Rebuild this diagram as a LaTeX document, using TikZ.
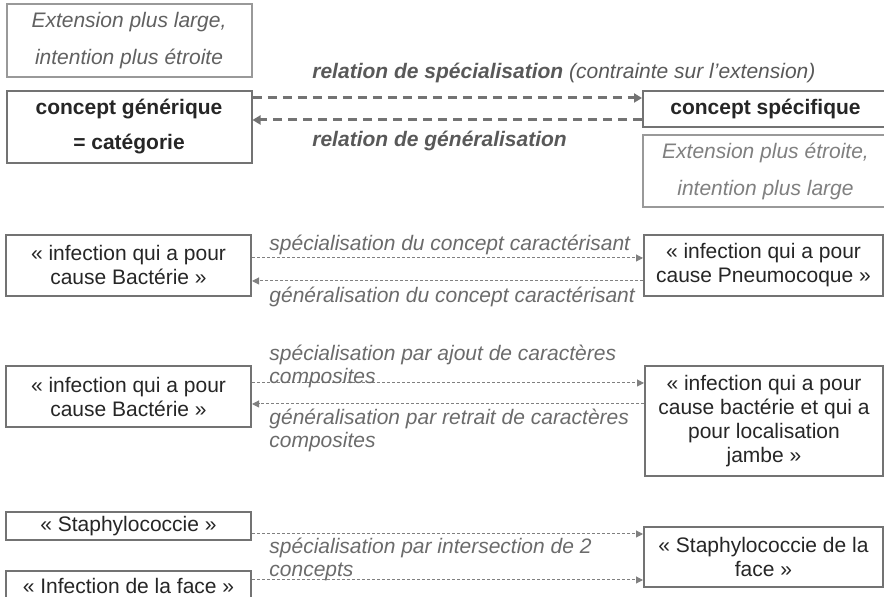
\documentclass[tikz,border=0pt]{standalone}
\usepackage{fontspec}
\setmainfont{Liberation Sans}
\usetikzlibrary{arrows.meta}

\begin{document}
\begin{tikzpicture}[x=0.5pt,y=-0.5pt,
    box/.style={draw=black!55,line width=1pt,fill=white,text=black!85,align=center,
      minimum width=122.5pt,inner sep=0pt,font=\fontsize{10.5}{12}\selectfont},
    hint/.style={box,draw=black!40,text=black!50,font=\fontsize{10.5}{18.5}\selectfont\itshape},
    rel/.style={black!55,line width=1.5pt,dash pattern=on 4.5pt off 3pt,
      -{Triangle[length=4pt,width=4.5pt]}},
    link/.style={black!50,line width=0.5pt,dash pattern=on 1.5pt off 1pt,
      -{Triangle[length=3.5pt,width=3.5pt]}},
    lbl/.style={anchor=west,inner sep=0pt,text=black!58,align=left,
      font=\fontsize{10.5}{11.5}\selectfont\itshape}]
    \useasboundingbox (0,0) rectangle (884,597);

    \node[hint,minimum height=36.5pt,text=black!62] (extlarge) at (129,40.5) {Extension plus large,\\intention plus étroite};
    \node[box,minimum height=36pt,font=\fontsize{10.5}{17.5}\selectfont\bfseries] (gen) at (129,127) {concept générique\\= catégorie};
    \node[box,minimum height=18pt,font=\fontsize{10.5}{12}\selectfont\bfseries] (spec) at (765.5,109) {concept spécifique};
    \node[hint,minimum height=36pt] (extnarrow) at (765.5,171) {Extension plus étroite,\\intention plus large};
    \draw[rel] (gen.east |- 0,98) -- (spec.west |- 0,98);
    \draw[rel] (spec.west |- 0,120) -- (gen.east |- 0,120);
    \node[lbl,text=black!65] (relspec) at (312,73) {\textbf{relation de spécialisation} (contrainte sur l’extension)};
    \node[lbl,text=black!65,font=\fontsize{10.5}{12}\selectfont\bfseries\itshape] (relgen) at (312,141) {relation de généralisation};

    \node[box,minimum height=30.5pt] (bact1) at (128.5,265.5) {« infection qui a pour\\cause Bactérie »};
    \node[box,minimum width=119.5pt,minimum height=30.5pt] (pneumo) at (763.5,265.5) {« infection qui a pour\\cause Pneumocoque »};
    \draw[link] (bact1.east |- 0,258) -- (pneumo.west |- 0,258);
    \draw[link] (pneumo.west |- 0,281) -- (bact1.east |- 0,281);
    \node[lbl] (spec1) at (269,245) {spécialisation du concept caractérisant};
    \node[lbl] (gen1) at (269,297) {généralisation du concept caractérisant};

    \node[box,minimum height=30.5pt] (bact2) at (128.5,396.5) {« infection qui a pour\\cause Bactérie »};
    \node[box,minimum width=119pt,minimum height=55pt] (jambe) at (764,421) {« infection qui a pour\\cause bactérie et qui a\\pour localisation\\jambe »};
    \draw[link] (bact2.east |- 0,383) -- (jambe.west |- 0,383);
    \draw[link] (jambe.west |- 0,404) -- (bact2.east |- 0,404);
    \node[lbl] (spec2) at (269,366) {spécialisation par ajout de caractères\\composites};
    \node[lbl] (gen2) at (269,430) {généralisation par retrait de caractères\\composites};

    \node[box,minimum height=14pt] (staph) at (128.5,526) {« Staphylococcie »};
    \node[box,minimum height=14pt] (face) at (128.5,585.5) {« Infection de la face »};
    \node[box,minimum width=119.5pt,minimum height=30pt] (staphface) at (763.5,557) {« Staphylococcie de la\\face »};
    \draw[link] (staph.east |- 0,534) -- (staphface.west |- 0,534);
    \draw[link] (face.east |- 0,580) -- (staphface.west |- 0,580);
    \node[lbl] (inter) at (269,559) {spécialisation par intersection de 2\\concepts};
\end{tikzpicture}
\end{document}
